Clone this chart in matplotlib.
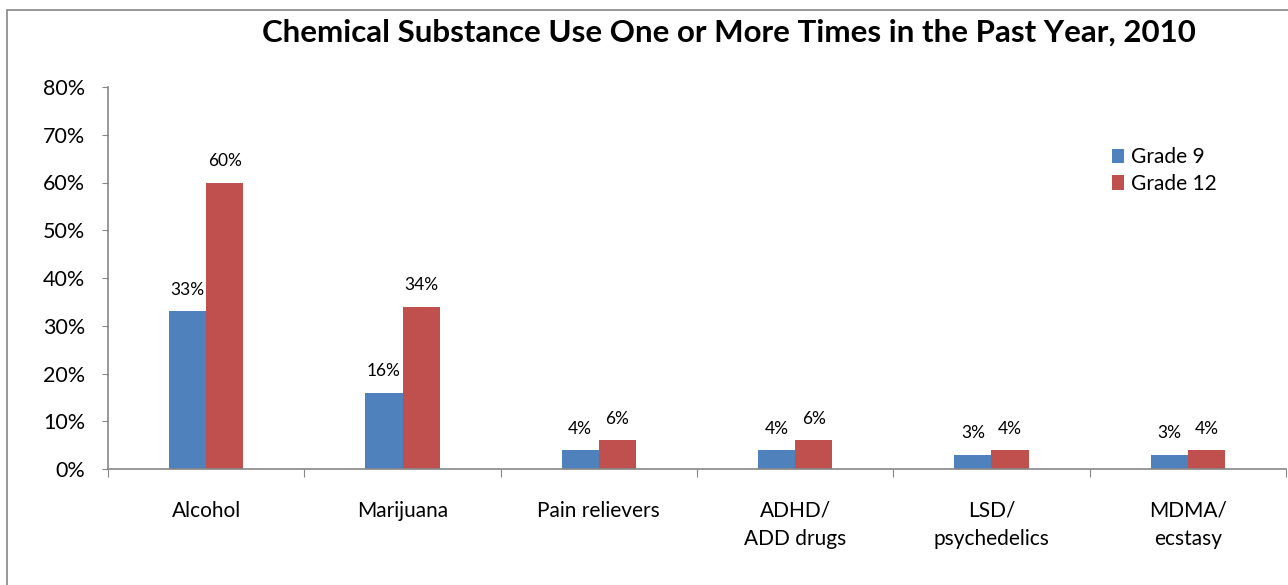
import matplotlib.pyplot as plt
import numpy as np
from matplotlib.patches import Rectangle

categories = ['Alcohol', 'Marijuana', 'Pain relievers', 'ADHD/\nADD drugs',
              'LSD/\npsychedelics', 'MDMA/\necstasy']
grade9 = [33, 16, 4, 4, 3, 3]
grade12 = [60, 34, 6, 6, 4, 4]
yticks = [0, 10, 20, 30, 40, 50, 60, 70, 80]

plt.rcParams['font.family'] = ['Lato', 'DejaVu Sans']

fig = plt.figure(figsize=(12.88, 5.85), dpi=100)
ax = fig.add_axes([108 / 1288, 116 / 585, 1178 / 1288, 382 / 585])

# chart border
fig.patches.append(Rectangle((7 / 1288, -0.1), 1.2, (580 - 5) / 585 + 0.1,
                             transform=fig.transFigure, fill=False,
                             edgecolor='#868686', linewidth=1.2))

x = np.arange(len(categories))
w = 0.19
b1 = ax.bar(x - w / 2, grade9, w, color='#4F81BD', label='Grade 9')
b2 = ax.bar(x + w / 2, grade12, w, color='#C0504D', label='Grade 12')

for bars, vals in ((b1, grade9), (b2, grade12)):
    for r, v in zip(bars, vals):
        ax.text(r.get_x() + r.get_width() / 2, v + 2.8, f'{v}%',
                ha='center', va='bottom', fontsize=12.5)

ax.set_xlim(-0.5, len(categories) - 0.5)
ax.set_ylim(0, 80)
ax.set_yticks(yticks)
ax.set_yticklabels([f'{t}%' for t in yticks], fontsize=15.5)
ax.set_xticks(np.arange(len(categories) + 1) - 0.5)
ax.set_xticklabels([])
ax.set_xticks(x, minor=True)
ax.set_xticklabels(categories, minor=True, fontsize=15, linespacing=1.5)
ax.tick_params(axis='x', which='minor', length=0, pad=23)
ax.tick_params(axis='x', which='major', direction='out', length=6,
               color='#868686')
ax.tick_params(axis='y', direction='out', length=4.5, color='#868686', pad=12)
for lbl in ax.get_xticklabels(minor=True):
    lbl.set_verticalalignment('top')

for s in ('top', 'right'):
    ax.spines[s].set_visible(False)
for s in ('left', 'bottom'):
    ax.spines[s].set_color('#868686')
    ax.spines[s].set_linewidth(1.2)

ax.legend(loc='upper left', bbox_to_anchor=(0.852, 0.842), frameon=False,
          fontsize=15, handlelength=0.6, handleheight=0.7, borderpad=0,
          borderaxespad=0, handletextpad=0.35, labelspacing=0.3)

fig.text(0.566, 0.945, 'Chemical Substance Use One or More Times in the Past Year, 2010',
         ha='center', va='center', fontsize=22.5, fontweight='bold')

fig.savefig('out.png', dpi=100)
